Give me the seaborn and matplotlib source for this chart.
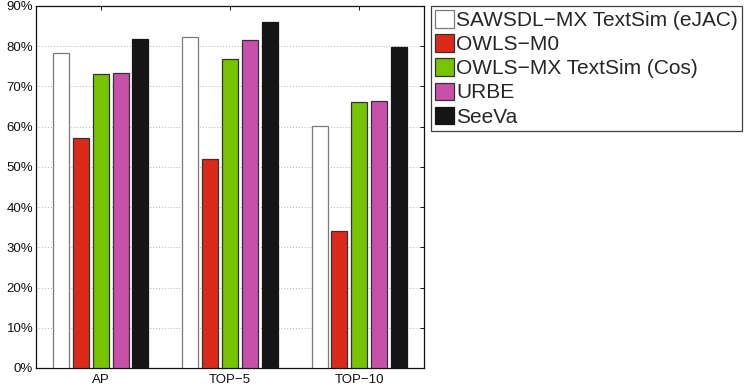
import matplotlib
matplotlib.use("Agg")
import matplotlib.pyplot as plt
import seaborn as sns
import pandas as pd
from matplotlib.ticker import FuncFormatter, FixedLocator

categories = ["AP", "TOP-5", "TOP-10"]
methods = ["SAWSDL\u2212MX TextSim (eJAC)", "OWLS\u2212M0", "OWLS\u2212MX TextSim (Cos)", "URBE", "SeeVa"]
sawsdl = [78.2, 82.4, 60.1]
owls_m0 = [57.3, 52.0, 34.1]
owls_cos = [73.0, 76.9, 66.1]
urbe = [73.4, 81.6, 66.5]
seeva = [81.9, 85.9, 79.9]
tick_labels = ["AP", "TOP\u22125", "TOP\u221210"]

colors = ["#ffffff", "#dc2a1a", "#76c400", "#c650aa", "#151515"]
edges = ["#7a7a7a", "#333333", "#333333", "#333333", "#151515"]

rows = []
for m, vals in zip(methods, [sawsdl, owls_m0, owls_cos, urbe, seeva]):
    for c, v in zip(categories, vals):
        rows.append({"category": c, "method": m, "value": v})
df = pd.DataFrame(rows)

sns.set_style("white")
plt.rcParams["font.family"] = ["Liberation Sans", "DejaVu Sans"]

fig = plt.figure(figsize=(7.51, 3.90), dpi=100)
ax = fig.add_axes([36 / 751, 1 - 368 / 390, (424 - 36) / 751, (368 - 6) / 390])

sns.barplot(data=df, x="category", y="value", hue="method", order=categories,
            hue_order=methods, palette=colors, width=0.769, gap=0.2,
            saturation=1, errorbar=None, ax=ax, legend=False, zorder=3)

# per-series edge colours
for cont, ec in zip(ax.containers, edges):
    for bar in cont:
        bar.set_edgecolor(ec)
        bar.set_linewidth(0.9)

ax.set_xlim(-0.5, 2.5)
ax.set_ylim(0, 90)
ax.yaxis.set_major_locator(FixedLocator(range(0, 91, 10)))
ax.yaxis.set_major_formatter(FuncFormatter(lambda v, p: f"{int(v)}%"))
ax.set_xticks(range(3))
ax.set_xticklabels(tick_labels)
ax.set_xlabel("")
ax.set_ylabel("")
ax.grid(axis="y", linestyle=(0, (1, 2.5)), color="#9a9a9a", linewidth=0.6, zorder=0)
ax.set_axisbelow(True)
ax.tick_params(axis="both", direction="in", length=3, width=0.7, labelsize=9.5,
               colors="#111111", top=True, right=True, pad=2)
ax.tick_params(axis="x", pad=4)
for s in ax.spines.values():
    s.set_visible(True)
    s.set_color("#111111")
    s.set_linewidth(0.9)

handles = [plt.Rectangle((0, 0), 1, 1, facecolor=c, edgecolor=e, linewidth=0.9)
           for c, e in zip(colors, edges)]
leg = fig.legend(handles, methods, loc="upper left",
                 bbox_to_anchor=(431 / 751, 1 - 6 / 390), fontsize=15,
                 frameon=True, fancybox=False, handlelength=0.92, handleheight=0.92,
                 handletextpad=0.1, labelspacing=0.2, borderpad=0.2,
                 borderaxespad=0)
leg.get_frame().set_edgecolor("#111111")
leg.get_frame().set_linewidth(0.9)

fig.savefig("out.png", dpi=100)
